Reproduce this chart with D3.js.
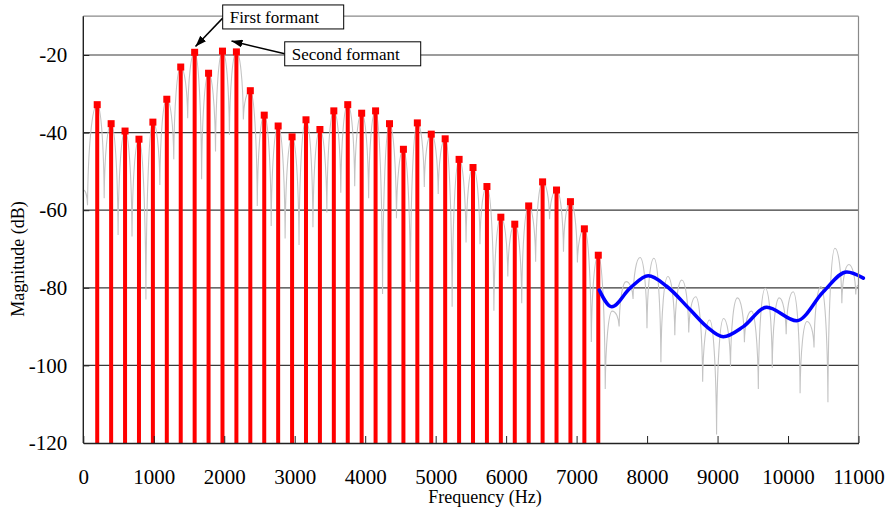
<!DOCTYPE html>
<html>
<head>
<meta charset="utf-8">
<script src="https://cdn.jsdelivr.net/npm/d3@7"></script>
<style>
  body { margin: 0; background: #fff; }
  svg { display: block; font-family: "Liberation Serif", "Times New Roman", serif; }
</style>
</head>
<body>
<svg id="chart" width="889" height="512"></svg>
<script>
/*
 * Values.
 */
const f0_hz = 197.5;

// harmonics 1..37 (red stems)
const harmonic_db = [
  -32.8, -37.7, -39.6, -41.7, -37.3, -31.4, -23.1, -19.3, -24.7, -19.0,
  -19.2, -29.2, -35.5, -38.3, -41.1, -36.7, -39.2, -34.4, -32.8, -35.0,
  -34.4, -37.7, -44.3, -37.5, -40.4, -41.6, -46.9, -49.0, -53.9, -61.8,
  -63.6, -58.9, -52.7, -54.8, -57.8, -64.8, -71.6
];

// harmonics 38..55 (grey spectrum only)
const upper_peak_db = [
  -86.0, -78.4, -72.2, -72.4, -77.1, -78.0, -82.3, -88.3, -87.9,
  -82.6, -86.0, -80.1, -82.6, -81.0, -88.7, -79.7, -69.8, -74.0
];

// dips of the grey spectrum between harmonic k and k+1, k = 0..55
const trough_db = [
  -58.7, -56.9, -66.4, -66.8, -83.0, -53.5, -46.9, -36.3, -52.0, -44.9,
  -40.6, -36.6, -58.9, -64.1, -67.3, -69.0, -64.4, -60.6, -55.5, -53.8,
  -56.9, -81.6, -62.1, -78.5, -54.0, -55.8, -84.9, -68.3, -68.8, -85.9,
  -77.1, -84.0, -73.3, -62.3, -70.7, -73.5, -94.0, -106.1, -90.0, -82.9,
  -90.4, -99.2, -92.2, -91.5, -104.2, -117.8, -100.3, -94.0, -106.1, -100.6,
  -92.0, -107.2, -95.4, -109.5, -84.0, -81.7
];
const first_trough_hz = 60;
const grey_start_db = -54.8;
const grey_end_db = -79.3;

// smooth envelope above 7.3 kHz (blue)
const envelope_hz = [7322, 7498, 7758, 8018, 8278, 8609, 8846, 9082, 9366, 9698, 10123, 10501, 10833, 11069];
const envelope_db = [-80.6, -84.9, -80.1, -76.9, -79.6, -85.6, -90.0, -92.6, -90.0, -85.0, -88.5, -81.0, -75.9, -77.5];

const x_ticks = [0, 1000, 2000, 3000, 4000, 5000, 6000, 7000, 8000, 9000, 10000, 11000];
const y_ticks = [-20, -40, -60, -80, -100, -120];

const annotations = [
  { label: 'First formant', box_hz: 1978, box_db: -7.1, w: 121, h: 24, from_hz: 1978, from_db: -10.5, to_hz: 1592, to_db: -17.8 },
  { label: 'Second formant', box_hz: 2858, box_db: -16.6, w: 136, h: 24, from_hz: 2858, from_db: -19.7, to_hz: 2103, to_db: -16.4 }
];

/*
 * Layout.
 */
let svg = d3.select('#chart');
let pl = 83.3, pr = 858.5, pt = 16.2, pb = 443;

let x = d3.scaleLinear().domain([0, 11000]).range([pl, pr]);
let y = d3.scaleLinear().domain([-120, -10]).range([pb, pt]);

let defs = svg.append('defs');
defs.append('clipPath').attr('id', 'plot_clip')
  .append('rect')
  .attr('x', pl).attr('y', pt)
  .attr('width', pr - pl).attr('height', pb - pt);

defs.append('marker')
  .attr('id', 'arrow_head')
  .attr('markerUnits', 'userSpaceOnUse')
  .attr('markerWidth', 11).attr('markerHeight', 8)
  .attr('refX', 11).attr('refY', 4)
  .attr('orient', 'auto')
  .append('path')
  .attr('d', 'M0,0 L11,4 L0,8 Z')
  .style('fill', 'black');

/*
 * Grid lines.
 */
svg.append('g')
  .selectAll('line')
  .data(y_ticks.filter(d => d > -120))
  .join('line')
  .attr('x1', pl).attr('x2', pr)
  .attr('y1', d => y(d)).attr('y2', d => y(d))
  .style('stroke', '#3a3a3a')
  .style('stroke-width', 1.2);

/*
 * Grey spectrum: cusps at the dips, round tops at the harmonics.
 */
let grey_pts = [{ hz: 0, db: grey_start_db, peak: true }];
for (let k = 0; k < trough_db.length; k++) {
  let hz = (k == 0) ? first_trough_hz : (k + 0.5) * f0_hz;
  grey_pts.push({ hz: hz, db: trough_db[k], peak: false });
  let n = k + 1;
  if (n <= harmonic_db.length)
    grey_pts.push({ hz: n * f0_hz, db: harmonic_db[n - 1], peak: true });
  else if (n - harmonic_db.length - 1 < upper_peak_db.length)
    grey_pts.push({ hz: n * f0_hz, db: upper_peak_db[n - harmonic_db.length - 1], peak: true });
}
grey_pts.push({ hz: 11000, db: grey_end_db, peak: true });

let gp = d3.path();
gp.moveTo(x(grey_pts[0].hz), y(grey_pts[0].db));
for (let i = 1; i < grey_pts.length; i++) {
  let a = grey_pts[i - 1], b = grey_pts[i];
  let xa = x(a.hz), ya = y(a.db), xb = x(b.hz), yb = y(b.db);
  let dx = xb - xa;
  if (!a.peak && b.peak)
    gp.bezierCurveTo(xa + 0.06 * dx, ya + 0.6 * (yb - ya), xb - 0.5 * dx, yb, xb, yb);
  else
    gp.bezierCurveTo(xa + 0.5 * dx, ya, xb - 0.06 * dx, yb + 0.6 * (ya - yb), xb, yb);
}

svg.append('path')
  .attr('d', gp.toString())
  .attr('clip-path', 'url(#plot_clip)')
  .style('fill', 'none')
  .style('stroke', '#c4c4c4')
  .style('stroke-width', 1.1);

/*
 * Red harmonic stems.
 */
let stems = svg.append('g');
stems.selectAll('line')
  .data(harmonic_db)
  .join('line')
  .attr('x1', (d, i) => x((i + 1) * f0_hz))
  .attr('x2', (d, i) => x((i + 1) * f0_hz))
  .attr('y1', y(-120))
  .attr('y2', d => y(d))
  .style('stroke', '#ff0000')
  .style('stroke-width', 4);

stems.selectAll('rect')
  .data(harmonic_db)
  .join('rect')
  .attr('x', (d, i) => x((i + 1) * f0_hz) - 3.5)
  .attr('y', d => y(d) - 3.5)
  .attr('width', 7)
  .attr('height', 7)
  .style('fill', '#ff0000');

/*
 * Blue envelope.
 */
let env_line = d3.line()
  .x(d => x(d[0]))
  .y(d => y(d[1]))
  .curve(d3.curveMonotoneX);

svg.append('path')
  .attr('d', env_line(d3.zip(envelope_hz, envelope_db)))
  .style('fill', 'none')
  .style('stroke', '#0000ff')
  .style('stroke-width', 3.5)
  .style('stroke-linecap', 'round');

/*
 * Frame and axes.
 */
svg.append('line')
  .attr('x1', pl).attr('x2', pr).attr('y1', pt).attr('y2', pt)
  .style('stroke', '#8a8a8a').style('stroke-width', 1.2);
svg.append('line')
  .attr('x1', pr).attr('x2', pr).attr('y1', pt).attr('y2', pb)
  .style('stroke', '#8a8a8a').style('stroke-width', 1.2);

let x_axis = d3.axisBottom(x)
  .tickValues(x_ticks)
  .tickFormat(d => String(d))
  .tickSizeInner(-7)
  .tickSizeOuter(0)
  .tickPadding(26);

let gx = svg.append('g')
  .attr('transform', `translate(0,${pb})`)
  .call(x_axis);
gx.select('.domain').style('stroke', '#222').style('stroke-width', 1.6);
gx.selectAll('.tick line').style('stroke', '#222');
gx.selectAll('.tick text')
  .style('font-family', '"Liberation Serif", "Times New Roman", serif')
  .style('font-size', '21px')
  .style('fill', '#000');

// plain hyphen for the negative labels, as in the original
let y_axis = d3.axisLeft(y)
  .tickValues(y_ticks)
  .tickFormat(d => String(d))
  .tickSizeInner(-6)
  .tickSizeOuter(0)
  .tickPadding(16);

let gy = svg.append('g')
  .attr('transform', `translate(${pl},0)`)
  .call(y_axis);
gy.select('.domain').style('stroke', '#222').style('stroke-width', 1.4)
  .attr('d', `M0,${pt}V${pb}`);
gy.selectAll('.tick line').style('stroke', '#222');
gy.selectAll('.tick text')
  .style('font-family', '"Liberation Serif", "Times New Roman", serif')
  .style('font-size', '21px')
  .style('fill', '#000');

svg.append('text')
  .attr('x', 485)
  .attr('y', 503)
  .attr('text-anchor', 'middle')
  .style('font-size', '18px')
  .text('Frequency (Hz)');

svg.append('text')
  .attr('transform', 'translate(24,259) rotate(-90)')
  .attr('text-anchor', 'middle')
  .style('font-size', '18px')
  .text('Magnitude (dB)');

/*
 * Formant call-outs.
 */
let ann = svg.append('g');
annotations.forEach(a => {
  ann.append('line')
    .attr('x1', x(a.from_hz)).attr('y1', y(a.from_db))
    .attr('x2', x(a.to_hz)).attr('y2', y(a.to_db))
    .attr('marker-end', 'url(#arrow_head)')
    .style('stroke', 'black')
    .style('stroke-width', 1.5);
  ann.append('rect')
    .attr('x', x(a.box_hz)).attr('y', y(a.box_db))
    .attr('width', a.w).attr('height', a.h)
    .style('fill', 'white')
    .style('stroke', 'black')
    .style('stroke-width', 1);
  ann.append('text')
    .attr('x', x(a.box_hz) + 7)
    .attr('y', y(a.box_db) + 18.5)
    .style('font-size', '17px')
    .text(a.label);
});
</script>
</body>
</html>
